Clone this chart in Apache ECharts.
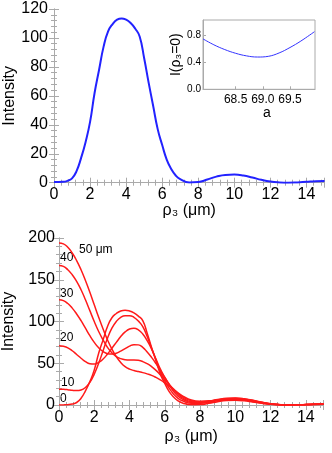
<!DOCTYPE html>
<html>
<head>
<meta charset="utf-8">
<script src="https://cdn.jsdelivr.net/npm/echarts@6/dist/echarts.min.js"></script>
<style>
  html, body { margin: 0; padding: 0; background: #fff; }
  #chart { width: 332px; height: 453px; }
</style>
</head>
<body>
<div id="chart"></div>
<script>
// radial coordinate rho3 (um): every 0.25 up to 7, then every 0.5
const rho = [0, 0.25, 0.5, 0.75, 1, 1.25, 1.5, 1.75, 2, 2.25, 2.5, 2.75, 3, 3.25, 3.5, 3.75,
  4, 4.25, 4.5, 4.75, 5, 5.25, 5.5, 5.75, 6, 6.25, 6.5, 6.75, 7,
  7.5, 8, 8.5, 9, 9.5, 10, 10.5, 11, 11.5, 12, 12.5, 13, 13.5, 14, 14.5, 15];

// top panel
const topIntensity = [0.5, 0.5, 0.6, 1.3, 3, 8, 17, 28, 42, 62, 78, 94, 104.5, 109.6, 112.6, 113.5,
  112.6, 110.3, 106.5, 101, 86, 69, 53, 37, 26, 16, 9.5, 5, 2.5,
  0.2, 0.5, 2.2, 4.2, 5.4, 5.6, 5, 3.6, 2, 0.8, 0.2, 0, 0.2, 0.6, 1, 1.2];

// inset: I(rho3=0) vs a
const insetA = [67.9, 68.1, 68.3, 68.5, 68.7, 68.9, 69.1, 69.3, 69.5, 69.7, 69.95];
const insetI = [0.742, 0.655, 0.585, 0.53, 0.492, 0.475, 0.485, 0.535, 0.615, 0.71, 0.848];
const insetTicks = [68.5, 69.0, 69.5];
const insetYTicks = [0, 0.4, 0.8];

// bottom panel, one curve per parameter value
const curveLabels = ['0', '10', '20', '30', '40', '50 \u03bcm'];
const i0 = [0, 0.1, 0.4, 1.2, 3, 8, 17, 28, 42, 62, 78, 94, 104.5, 109.6, 112.6, 113.5,
  112.6, 110.3, 106.5, 101, 86, 69, 53, 37, 26, 16, 9.5, 5, 2.5,
  0.3, 0.5, 2, 4, 5.3, 5.6, 5, 3.5, 2, 0.8, 0.2, 0, 0.2, 0.5, 0.9, 1.2];
const i10 = [19, 18.8, 18.3, 17.6, 17.3, 18, 21, 27, 37, 50, 65, 80, 92, 100, 105, 107,
  107, 105, 100.5, 94, 82, 68, 54, 40, 29, 20, 13, 8, 5,
  2, 2, 3, 5, 6, 6.2, 5.6, 4, 2.3, 1, 0.3, 0.1, 0.2, 0.5, 0.9, 1.1];
const i20 = [71, 70.3, 68.5, 65, 60.5, 56, 52, 49.5, 49, 51, 55, 61, 68, 75, 82, 87.5,
  91, 92, 90, 85, 77, 67, 55, 43, 33, 24, 16, 10.5, 7,
  3, 2.5, 3.5, 5.5, 6.6, 7, 6.2, 4.6, 2.7, 1.2, 0.4, 0.1, 0.2, 0.5, 0.9, 1.1];
const i30 = [126, 125, 121.5, 116, 109, 101, 92, 83, 75, 68.5, 64, 61.5, 61, 62, 64.5, 67.5,
  70.5, 72.3, 72, 69, 63.5, 57, 49.5, 41, 33, 25, 18, 12.5, 8.5,
  4, 3, 4, 6, 7.2, 7.5, 6.7, 5, 3, 1.3, 0.4, 0.1, 0.2, 0.5, 0.8, 1];
const i40 = [167, 166, 162, 156, 148, 138, 126, 113, 100, 88, 78, 69, 62.5, 58, 55.5, 54.3,
  54, 54, 53.5, 52, 49.5, 46, 41.5, 36, 30.5, 24.5, 19, 14, 10,
  5, 3.5, 4.5, 6.3, 7.6, 8, 7.2, 5.3, 3.2, 1.4, 0.4, 0.1, 0.2, 0.4, 0.7, 0.9];
const i50 = [194, 193, 189, 182, 173, 162, 149, 135, 120, 105, 91, 78, 67, 58, 51, 46,
  43, 41.3, 40, 38.8, 37.3, 35.5, 33, 30, 26.5, 22.5, 18.5, 14.5, 11,
  6, 4.5, 5, 6.6, 8, 8.3, 7.5, 5.6, 3.4, 1.5, 0.5, 0.1, 0.2, 0.4, 0.6, 0.8];
const bottomCurves = [i0, i10, i20, i30, i40, i50];

const frameColor = '#aaa';
const font = 'Liberation Sans, Arial, sans-serif';

function pairs(xs, ys) {
  return xs.map((x, i) => [x, ys[i]]);
}

// one framed axis (Mathematica style: ticks inside, on all sides)
function axis(opts) {
  const labels = opts.labels !== false;
  return Object.assign({
    type: 'value',
    nameMoveOverlap: false,
    axisLine: { show: true, lineStyle: { color: frameColor, width: 1 } },
    axisTick: { show: true, inside: true, length: opts.tickLen || 5, lineStyle: { color: frameColor } },
    minorTick: { show: true, splitNumber: opts.minor || 5, length: opts.minorLen || 3, lineStyle: { color: frameColor } },
    splitLine: { show: false },
    axisLabel: {
      show: labels,
      color: '#000',
      fontSize: opts.fontSize || 16,
      fontFamily: font,
      margin: opts.margin || 5,
      showMaxLabel: opts.showMax !== false
    },
    nameTextStyle: { color: '#000', fontSize: opts.nameSize || 16, fontFamily: font, padding: opts.namePad || 0 }
  }, opts.extra);
}

const chart = echarts.init(document.getElementById('chart'));

const xTop = { min: 0, max: 15, interval: 2 };
const xBot = { min: 0, max: 15, interval: 2 };

const inX = axis({ fontSize: 12, margin: 4, tickLen: 3, nameSize: 14, namePad: [0, 0, 0, 16],
  extra: { gridIndex: 2, position: 'bottom', min: 67.9, max: 69.96,
    name: 'a', nameLocation: 'middle', nameGap: 17 } });
inX.minorTick = { show: false };
inX.axisTick.customValues = insetTicks;
inX.axisLabel.customValues = insetTicks;
inX.axisLabel.formatter = v => v.toFixed(1);

const inY = axis({ fontSize: 10, margin: 2, tickLen: 3, nameSize: 14,
  extra: { gridIndex: 2, position: 'left', min: 0, max: 1.02,
    name: 'I(\u03c1\u2083=0)', nameLocation: 'middle', nameGap: 20 } });
inY.minorTick = { show: false };
inY.axisTick.customValues = insetYTicks;
inY.axisLabel.customValues = insetYTicks;
inY.axisLabel.formatter = v => v.toFixed(1);

chart.setOption({
  animation: false,
  grid: [
    { left: 54, top: 9, width: 270.5, height: 173.7, outerBoundsMode: 'none' },
    { left: 59, top: 238, width: 264.5, height: 167, outerBoundsMode: 'none' },
    { left: 203, top: 20, width: 112, height: 69.3, outerBoundsMode: 'none',
      show: true, borderColor: frameColor, borderWidth: 1 }
  ],
  xAxis: [
    axis({ margin: 4, showMax: false, extra: Object.assign({ gridIndex: 0, position: 'bottom',
      name: '\u03c1\u2083 (\u03bcm)', nameLocation: 'middle', nameGap: 20 }, xTop) }),
    axis({ labels: false, extra: Object.assign({ gridIndex: 0, position: 'top' }, xTop) }),
    axis({ margin: 5, showMax: false, extra: Object.assign({ gridIndex: 1, position: 'bottom',
      name: '\u03c1\u2083 (\u03bcm)', nameLocation: 'middle', nameGap: 24 }, xBot) }),
    axis({ labels: false, extra: Object.assign({ gridIndex: 1, position: 'top' }, xBot) }),
    inX
  ],
  yAxis: [
    axis({ margin: 6, extra: { gridIndex: 0, position: 'left', min: 0, max: 120, interval: 20,
      name: 'Intensity', nameLocation: 'middle', nameGap: 36 } }),
    axis({ labels: false, extra: { gridIndex: 0, position: 'right', min: 0, max: 120, interval: 20 } }),
    axis({ margin: 4, extra: { gridIndex: 1, position: 'left', min: 0, max: 200, interval: 50,
      name: 'Intensity', nameLocation: 'middle', nameGap: 42 } }),
    axis({ labels: false, extra: { gridIndex: 1, position: 'right', min: 0, max: 200, interval: 50 } }),
    inY
  ],
  series: [
    {
      type: 'line', xAxisIndex: 0, yAxisIndex: 0,
      data: pairs(rho, topIntensity), smooth: 0.5, showSymbol: false,
      lineStyle: { color: '#2222ff', width: 2 }
    },
    {
      type: 'line', xAxisIndex: 4, yAxisIndex: 4,
      data: pairs(insetA, insetI), smooth: 0.4, showSymbol: false,
      lineStyle: { color: '#3333ff', width: 1 }
    }
  ].concat(bottomCurves.map((vals, k) => ({
    type: 'line', xAxisIndex: 2, yAxisIndex: 2, name: curveLabels[k],
    data: pairs(rho, vals), smooth: 0.5, showSymbol: false,
    lineStyle: { color: '#ff1a1a', width: 1.5 }
  }))),
  graphic: [
    { type: 'text', left: 79, top: 244, style: { text: curveLabels[5], font: '12px ' + font, fill: '#000' } },
    { type: 'text', left: 60, top: 252, style: { text: curveLabels[4], font: '12px ' + font, fill: '#000' } },
    { type: 'text', left: 60, top: 288, style: { text: curveLabels[3], font: '12px ' + font, fill: '#000' } },
    { type: 'text', left: 60, top: 332, style: { text: curveLabels[2], font: '12px ' + font, fill: '#000' } },
    { type: 'text', left: 61, top: 377, style: { text: curveLabels[1], font: '12px ' + font, fill: '#000' } },
    { type: 'text', left: 60, top: 393, style: { text: curveLabels[0], font: '12px ' + font, fill: '#000' } }
  ]
});
</script>
</body>
</html>
